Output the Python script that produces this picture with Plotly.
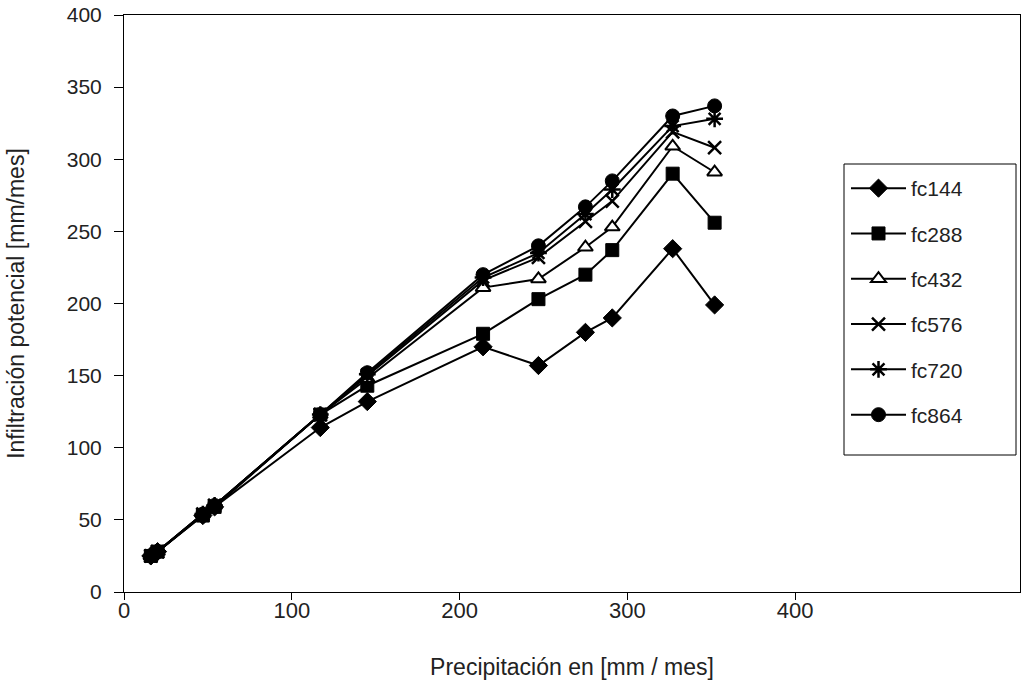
import plotly.graph_objects as go

precip = [16, 20, 47, 54, 117, 145, 214, 247, 275, 291, 327, 352]

fc144 = [25, 28, 53, 59, 114, 132, 170, 157, 180, 190, 238, 199]
fc288 = [25, 28, 53, 59, 123, 143, 179, 203, 220, 237, 290, 256]
fc432 = [25, 28, 54, 60, 123, 148, 211, 217, 239, 253, 309, 291]
fc576 = [25, 28, 54, 60, 123, 150, 216, 232, 257, 271, 319, 308]
fc720 = [25, 28, 54, 60, 123, 151, 218, 235, 262, 279, 323, 328]
fc864 = [25, 28, 54, 60, 123, 152, 220, 240, 267, 285, 330, 337]

series_names = ["fc144", "fc288", "fc432", "fc576", "fc720", "fc864"]
series_vals = [fc144, fc288, fc432, fc576, fc720, fc864]

x_ticks = [0, 100, 200, 300, 400]
y_ticks = [0, 50, 100, 150, 200, 250, 300, 350, 400]

styles = {
    "fc144": dict(symbol="diamond", size=14, color="black", line=dict(color="black", width=1)),
    "fc288": dict(symbol="square", size=13, color="black", line=dict(color="black", width=1)),
    "fc432": dict(symbol="triangle-up", size=13, color="white", line=dict(color="black", width=2)),
    "fc576": dict(symbol="x-thin-open", size=13, color="black", line=dict(color="black", width=2.5)),
    "fc720": dict(symbol="asterisk-open", size=14, color="black", line=dict(color="black", width=2.5)),
    "fc864": dict(symbol="circle", size=14, color="black", line=dict(color="black", width=1)),
}

fig = go.Figure()
for name, vals in zip(series_names, series_vals):
    fig.add_trace(go.Scatter(
        x=precip, y=vals, name=name, mode="lines+markers",
        line=dict(color="black", width=2),
        marker=styles[name],
        legendgroup=name,
    ))

# plot area: left 124, right 1020, top 15, bottom 592 (page px)
# legend frame
fig.add_shape(type="rect", xref="paper", yref="paper",
              x0=(844 - 124) / 896, x1=(1016 - 124) / 896,
              y0=(592 - 455) / 577, y1=(592 - 164) / 577,
              line=dict(color="black", width=1), fillcolor="white", layer="below")

font_family = "Liberation Sans, Arial, sans-serif"
fig.update_layout(
    width=1027, height=687,
    margin=dict(l=124, r=7, t=15, b=95),
    paper_bgcolor="white", plot_bgcolor="white",
    font=dict(family=font_family, size=22, color="#222"),
    showlegend=True,
    legend=dict(
        x=(846 - 124) / 896, y=(592 - 168) / 577, xanchor="left", yanchor="top",
        borderwidth=0, bgcolor="rgba(0,0,0,0)",
        font=dict(size=21, color="#222"),
        tracegroupgap=15,
        itemwidth=55,
    ),
    xaxis=dict(
        range=[0, 534], tickvals=x_ticks, ticktext=[str(v) for v in x_ticks],
        showline=True, linecolor="black", linewidth=1, mirror=True,
        ticks="outside", ticklen=7, tickcolor="black", ticklabelstandoff=-8,
        showgrid=False, zeroline=False, ticklabeloverflow="allow",
        automargin=False,
        title=dict(text="Precipitación en [mm / mes]", font=dict(size=23), standoff=36),
    ),
    yaxis=dict(
        range=[0, 400], tickvals=y_ticks, ticktext=[str(v) for v in y_ticks],
        showline=True, linecolor="black", linewidth=1, mirror=True,
        ticks="outside", ticklen=9, tickcolor="black", ticklabelstandoff=8,
        tickfont=dict(size=21),
        showgrid=False, zeroline=False, ticklabeloverflow="allow",
        automargin=False,
        title=dict(text="Infiltración potencial [mm/mes]", font=dict(size=23), standoff=35),
    ),
)

fig.write_html("out.html", config={"displayModeBar": False},
               post_script="document.body.style.margin='0';")
